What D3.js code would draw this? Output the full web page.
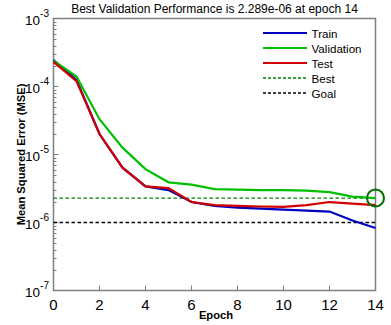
<!DOCTYPE html>
<html><head><meta charset="utf-8">
<script src="https://cdn.jsdelivr.net/npm/d3@7"></script>
<style>body{margin:0;background:#fff}svg{display:block}text{font-family:"Liberation Sans",Arial,sans-serif}</style>
</head><body><svg id="c" width="391" height="325"></svg>
<script>
const epochs = [0,1,2,3,4,5,6,7,8,9,10,11,12,13,14];
const train = [2.45e-4,1.25e-4,2.0e-5,6.4e-6,3.4e-6,3.0e-6,2.0e-6,1.75e-6,1.65e-6,1.6e-6,1.55e-6,1.5e-6,1.45e-6,1.07e-6,8.3e-7];
const validation = [2.4e-4,1.4e-4,3.3e-5,1.26e-5,6.1e-6,3.9e-6,3.6e-6,3.1e-6,3.05e-6,3.0e-6,3.0e-6,2.95e-6,2.8e-6,2.4e-6,2.289e-6];
const test = [2.3e-4,1.2e-4,2.0e-5,6.4e-6,3.4e-6,3.2e-6,2.0e-6,1.8e-6,1.75e-6,1.72e-6,1.7e-6,1.8e-6,2.0e-6,1.9e-6,1.8e-6];
const best = 2.289e-6, goal = 1e-6, bestEpoch = 14;
const xTicks = [0,2,4,6,8,10,12,14];
const yTicks = [1e-7,1e-6,1e-5,1e-4,1e-3];
const title = "Best Validation Performance is 2.289e-06 at epoch 14";

const svg = d3.select("#c");
const L=53.5, R=375.5, T=18.5, B=290.5;
const x = d3.scaleLinear().domain([0,14]).range([L,R]);
const y = d3.scaleLog().domain([1e-7,1e-3]).range([B,T]);
const axisCol = "#7f7f7f";

svg.append("rect").attr("x",L).attr("y",T).attr("width",R-L).attr("height",B-T)
  .attr("fill","#fff").attr("stroke",axisCol).attr("stroke-width",1.5);

const minor = [];
for (let e=-7;e<-3;e++) for (let k=2;k<=9;k++) minor.push(k*Math.pow(10,e));
svg.append("g").selectAll("line").data(minor).join("line")
  .attr("x1",L).attr("x2",L+3).attr("y1",d=>Math.round(y(d))+0.5).attr("y2",d=>Math.round(y(d))+0.5)
  .attr("stroke",axisCol);
svg.append("g").selectAll("line").data(yTicks).join("line")
  .attr("x1",L).attr("x2",L+5).attr("y1",d=>y(d)).attr("y2",d=>y(d)).attr("stroke",axisCol);
svg.append("g").selectAll("line").data(xTicks).join("line")
  .attr("x1",d=>x(d)).attr("x2",d=>x(d)).attr("y1",B).attr("y2",B-5).attr("stroke",axisCol);

const yl = svg.append("g").selectAll("text").data(yTicks).join("text")
  .attr("x",49).attr("y",d=>y(d)+6.5).attr("text-anchor","end").attr("font-size",13.5).attr("fill","#000");
yl.append("tspan").text("10");
yl.append("tspan").attr("dy",-8).attr("font-size",10).text(d=>Math.round(Math.log10(d)));

svg.append("g").selectAll("text").data(xTicks).join("text")
  .attr("x",d=>x(d)).attr("y",B+19).attr("text-anchor","middle").attr("font-size",15).text(d=>d);

svg.append("line").attr("x1",x(0)).attr("x2",x(14)).attr("y1",y(best)).attr("y2",y(best))
  .attr("stroke","#008000").attr("stroke-width",1.3).attr("stroke-dasharray","3.5,2.5");
svg.append("line").attr("x1",x(0)).attr("x2",x(14)).attr("y1",y(goal)).attr("y2",y(goal))
  .attr("stroke","#000").attr("stroke-width",1.3).attr("stroke-dasharray","3.5,2.5");

const line = d3.line().x((d,i)=>x(epochs[i])).y(d=>y(d));
const series = [["Train",train,"#0000c0"],["Validation",validation,"#00c000"],["Test",test,"#d00000"]];
series.forEach(s=>{
  svg.append("path").attr("d",line(s[1])).attr("fill","none").attr("stroke",s[2]).attr("stroke-width",2.2);
});
svg.append("circle").attr("cx",x(bestEpoch)).attr("cy",y(best)).attr("r",8.5)
  .attr("fill","none").attr("stroke","#007000").attr("stroke-width",2);

const leg = [["Train","#0000c0",null],["Validation","#00c000",null],["Test","#d00000",null],["Best","#008000","3,2"],["Goal","#000","3,2"]];
leg.forEach((l,i)=>{
  const yy = 33 + i*15;
  svg.append("line").attr("x1",263).attr("x2",307).attr("y1",yy).attr("y2",yy).attr("stroke",l[1])
    .attr("stroke-width",l[2]?1.3:2.2).attr("stroke-dasharray",l[2]);
  svg.append("text").attr("x",311.5).attr("y",yy+4.5).attr("font-size",11.6).text(l[0]);
});

svg.append("text").attr("x",(L+R)/2).attr("y",13).attr("text-anchor","middle").attr("font-size",12).text(title);
svg.append("text").attr("x",216).attr("y",319).attr("text-anchor","middle").attr("font-size",11.2).attr("font-weight","bold").text("Epoch");
svg.append("text").attr("transform",`translate(24.5,${(T+B)/2}) rotate(-90)`).attr("text-anchor","middle")
  .attr("font-size",11.2).attr("font-weight","bold").text("Mean Squared Error  (MSE)");
</script></body></html>
